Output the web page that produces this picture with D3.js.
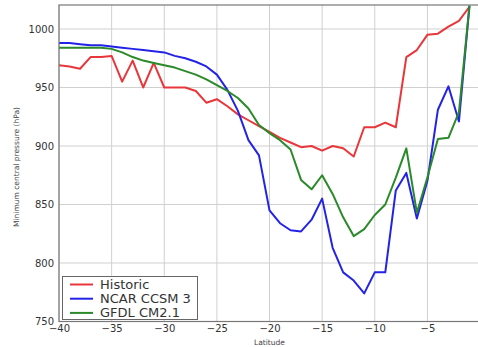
<!DOCTYPE html>
<html><head><meta charset="utf-8">
<script src="https://cdn.jsdelivr.net/npm/d3@7"></script>
<style>html,body{margin:0;padding:0;background:#fff;overflow:hidden}svg{display:block}</style>
</head><body>
<script>
const latitudes = d3.range(-40, 0, 1);
const historic = [969,968,966,976,976,977,955,973,950,971,950,950,950,947,937,940,934,927,922,917,912,907,903,899,900,896,900,898,891,916,916,920,916,976,982,995,996,1002,1007,1019];
const ncar = [988,988,987,986,986,985,984,983,982,981,980,977,975,972,968,961,948,930,905,892,845,834,828,827,837,855,813,792,785,774,792,792,862,877,838,870,931,951,921,1020];
const gfdl = [984,984,984,984,984,983,980,976,973,971,969,967,964,961,957,952,947,941,932,918,911,905,897,871,863,875,859,839,823,829,841,850,873,898,843,873,906,907,929,1020];
const seriesNames = ["Historic", "NCAR CCSM 3", "GFDL CM2.1"];
const xTicks = [-40,-35,-30,-25,-20,-15,-10,-5,0];
const xTickLabels = [-40,-35,-30,-25,-20,-15,-10,-5];
const yTicks = [750,800,850,900,950,1000];
const colors = ["#e8363a", "#2323e8", "#2a8a2a"];

const W = 478, H = 347;
const svg = d3.select("body").append("svg").attr("width", W).attr("height", H);
const x = d3.scaleLinear().domain([-40, 0]).range([59, 480]);
const y = d3.scaleLinear().domain([750, 1020.5]).range([321.5, 5]);

// grid
svg.append("g").selectAll("line").data(xTicks).join("line")
  .attr("x1", d => x(d)).attr("x2", d => x(d)).attr("y1", 5).attr("y2", 321.5)
  .attr("stroke", "#d0d0d0").attr("stroke-width", 1);
svg.append("g").selectAll("line").data(yTicks).join("line")
  .attr("x1", 59).attr("x2", 480).attr("y1", d => y(d)).attr("y2", d => y(d))
  .attr("stroke", "#d0d0d0").attr("stroke-width", 1);

// lines
const all = [historic, ncar, gfdl];
const line = d3.line().x((d, i) => x(latitudes[i])).y(d => y(d));
all.forEach((s, k) => {
  svg.append("path").datum(s).attr("d", line).attr("fill", "none")
    .attr("stroke", colors[k]).attr("stroke-width", 2).attr("stroke-linejoin", "round");
});

// frame
svg.append("rect").attr("x", 59).attr("y", 5).attr("width", 421).attr("height", 316.5)
  .attr("fill", "none").attr("stroke", "#777").attr("stroke-width", 1.2);

// axes
const yAxis = svg.append("g").attr("transform", "translate(59,0)")
  .call(d3.axisLeft(y).tickValues(yTicks).tickSize(0).tickPadding(5).tickFormat(d3.format("d")));
yAxis.select(".domain").remove();
yAxis.selectAll("text").attr("font-family", "DejaVu Sans").attr("font-size", 10).attr("fill", "#333");

const xAxis = svg.append("g").attr("transform", "translate(0,321.5)")
  .call(d3.axisBottom(x).tickValues(xTickLabels).tickSize(0).tickPadding(3).tickFormat(d => d < 0 ? "\u2212" + Math.abs(d) : d));
xAxis.select(".domain").remove();
xAxis.selectAll("text").attr("font-family", "DejaVu Sans").attr("font-size", 10).attr("fill", "#333");

svg.append("text").attr("x", 269.5).attr("y", 345).attr("text-anchor", "middle")
  .attr("font-family", "DejaVu Sans").attr("font-size", 7.5).attr("fill", "#444").text("Latitude");
svg.append("text").attr("transform", "translate(19,167) rotate(-90)").attr("text-anchor", "middle")
  .attr("font-family", "DejaVu Sans").attr("font-size", 7.5).attr("fill", "#444").text("Minimum central pressure (hPa)");

// legend
const lg = svg.append("g");
lg.append("rect").attr("x", 62.5).attr("y", 276.5).attr("width", 135).attr("height", 43)
  .attr("fill", "#fff").attr("stroke", "#666").attr("stroke-width", 1);
seriesNames.forEach((n, k) => {
  const yy = 284.5 + k * 14.2;
  lg.append("line").attr("x1", 70).attr("x2", 93).attr("y1", yy).attr("y2", yy)
    .attr("stroke", colors[k]).attr("stroke-width", 2);
  lg.append("text").attr("x", 100).attr("y", yy + 4.5).attr("font-family", "DejaVu Sans")
    .attr("font-size", 13).attr("fill", "#333").text(n);
});
</script>
</body></html>
